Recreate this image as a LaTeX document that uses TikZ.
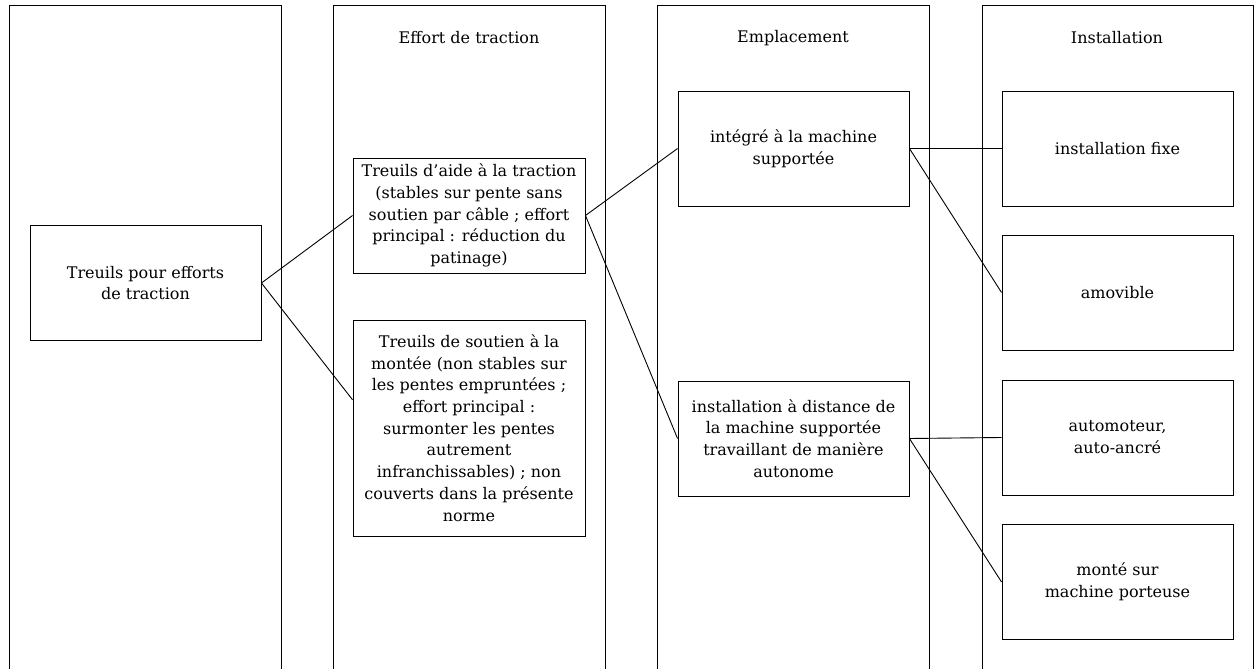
\documentclass[tikz,border=0pt]{standalone}
\usepackage{fontspec}
\setmainfont{DejaVu Serif}
\usetikzlibrary{calc}
\begin{document}
\begin{tikzpicture}[x=1pt,y=-1pt,
  col/.style={line width=1pt, draw=black},
  box/.style={draw, line width=0.9pt, minimum width=231pt, minimum height=115pt, inner sep=0pt, align=center,
    font=\fontsize{16}{21.7}\selectfont},
  hdr/.style={font=\fontsize{16}{21.7}\selectfont, inner sep=0pt},
  link/.style={line width=0.9pt}]
\useasboundingbox (0,0) rectangle (1256,669);
% columns
\draw[col] (9,669) -- (9,6) -- (281,6) -- (281,669);
\draw[col] (333,669) -- (333,6) -- (605,6) -- (605,669);
\draw[col] (657,669) -- (657,6) -- (929,6) -- (929,669);
\draw[col] (982,669) -- (982,6) -- (1253,6) -- (1253,669);
% headers
\node[hdr] (h2) at (469,38) {Effort de traction};
\node[hdr] (h3) at (793,38) {Emplacement};
\node[hdr] (h4) at (1117,38) {Installation};
% boxes
\node[box] (A) at (145.5,283) {Treuils pour efforts\\de traction};
\node[box, minimum width=232pt] (B) at (469,215.5) {Treuils d’aide à la traction\\(stables sur pente sans\\soutien par câble ; effort\\principal : réduction du\\patinage)};
\node[box, minimum width=232pt, minimum height=216pt] (C) at (469,428) {Treuils de soutien à la\\montée (non stables sur\\les pentes empruntées ;\\effort principal :\\surmonter les pentes\\autrement\\infranchissables) ; non\\couverts dans la présente\\norme};
\node[box] (D) at (793.5,148.5) {intégré à la machine\\supportée};
\node[box] (E) at (793.5,438.5) {installation à distance de\\la machine supportée\\travaillant de manière\\autonome};
\node[box] (F) at (1117.5,148.5) {installation fixe};
\node[box] (G) at (1117.5,292.5) {amovible};
\node[box] (H) at (1117.5,437.5) {automoteur,\\auto-ancré};
\node[box] (I) at (1117.5,582) {monté sur\\machine porteuse};
% connectors
\coordinate (Cin) at ($(C.north west)!0.37!(C.south west)$);
\draw[link] (A.east) -- (B.west);
\draw[link] (A.east) -- (Cin);
\draw[link] (B.east) -- (D.west);
\draw[link] (B.east) -- (E.west);
\draw[link] (D.east) -- (F.west);
\draw[link] (D.east) -- (G.west);
\draw[link] (E.east) -- (H.west);
\draw[link] (E.east) -- (I.west);
\end{tikzpicture}
\end{document}
